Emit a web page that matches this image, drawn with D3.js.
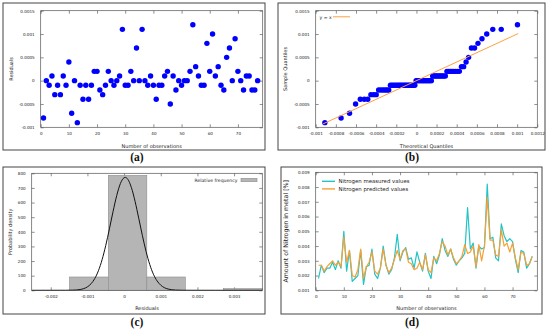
<!DOCTYPE html>
<html lang="en">
<head>
<meta charset="utf-8">
<script src="https://cdn.jsdelivr.net/npm/d3@7"></script>
<style>
    body { margin: 0; background: #fff; }
    svg text { font-family: "DejaVu Sans", sans-serif; fill: #222; }
    .axis .domain { display: none; }
    .axis line { stroke: #444; stroke-width: 0.6; }
    .axis text { font-size: 4.1px; font-family: "DejaVu Sans", sans-serif; fill: #222; }
    .frame { fill: none; stroke: #444; stroke-width: 1; }
    .plotbox { fill: none; stroke: #555; stroke-width: 0.7; }
    .atitle { font-size: 5px; }
    .legend { font-size: 5.4px; }
    .caption { font-family: "Liberation Serif", serif; font-size: 11.5px; font-weight: bold; fill: #111; }
</style>
</head>
<body>
<script>

    /* (a) residuals for each observation */
    var residuals = [-0.0008, 0, -0.0001, 0.0001, -0.0003, -0.0001, -0.0003, 0.0001, -0.0001, 0.0004,
        -0.0007, 0, -0.0009, -0.0001, -0.0004, -0.0001, -0.0004, -0.0001, 0.0002, 0.0002,
        -0.0002, -0.0003, -0.0001, 0.0002, 0, -0.0001, 0, 0.0001, 0.0011, -0.0001,
        -0.0001, 0.0002, 0, 0.0007, 0, 0.0011, 0, -0.0001, 0.0001, -0.0001,
        -0.0004, -0.0001, -0.0001, 0.0001, 0.0002, -0.0005, 0.0001, -0.0002, 0, -0.0001,
        0, 0, 0.0002, 0.0012, 0.0003, 0.0001, -0.0001, -0.0001, 0.0008, 0.0002,
        0.001, 0.0001, 0.0003, -0.0001, -0.0002, 0.0005, 0.0007, 0, 0.0009, 0.0002,
        0, -0.0002, 0.0001, 0.0001, -0.0002, -0.0002, 0];
    var observations = residuals.map(function(d, i) { return i + 1; });

    /* (b) theoretical quantiles, sample = sorted residuals */
    var qqTheoretical = [-9.09e-4, -7.48e-4, -6.64e-4, -6.04e-4, -5.57e-4, -5.17e-4, -4.83e-4, -4.52e-4, -4.24e-4, -3.99e-4,
        -3.75e-4, -3.53e-4, -3.32e-4, -3.12e-4, -2.93e-4, -2.75e-4, -2.58e-4, -2.41e-4, -2.25e-4, -2.09e-4,
        -1.93e-4, -1.78e-4, -1.64e-4, -1.49e-4, -1.35e-4, -1.21e-4, -1.07e-4, -0.94e-4, -0.80e-4, -0.67e-4,
        -0.54e-4, -0.42e-4, -0.29e-4, -0.16e-4, -0.03e-4, 0.09e-4, 0.22e-4, 0.34e-4, 0.47e-4, 0.60e-4,
        0.72e-4, 0.85e-4, 0.97e-4, 1.10e-4, 1.23e-4, 1.36e-4, 1.48e-4, 1.61e-4, 1.74e-4, 1.88e-4,
        2.01e-4, 2.15e-4, 2.29e-4, 2.43e-4, 2.58e-4, 2.72e-4, 2.87e-4, 3.03e-4, 3.19e-4, 3.35e-4,
        3.52e-4, 3.69e-4, 3.87e-4, 4.06e-4, 4.26e-4, 4.47e-4, 4.69e-4, 4.93e-4, 5.18e-4, 5.46e-4,
        5.77e-4, 6.11e-4, 6.51e-4, 6.98e-4, 7.58e-4, 8.42e-4, 10.03e-4];
    var qqSample = residuals.slice().sort(d3.ascending);
    var qqLineX = [-0.00093, 0.00101];

    /* (c) histogram bins and fitted density */
    var binStart = [-0.00149, -0.00043, 0.00062, 0.00271];
    var binEnd = [-0.00043, 0.00062, 0.00167, 0.00377];
    var binDensity = [91, 786, 91, 11];
    var curveX = [-25.2, -20, -16, -14, -13, -12, -11, -10, -9, -8, -7, -6, -5, -4, -3, -2, -1, 0, 0.3, 1, 2,
        3, 4, 5, 6, 7, 8, 9, 10, 11, 12, 13, 14, 16, 20, 25, 37.7].map(function(d) { return d * 1e-4; });
    var curveY = [0, 0, 0.1, 0.9, 2.3, 5.3, 11.6, 23.6, 44.9, 80.1, 133.8, 209.4, 306.6, 420.4, 539.6, 648.7, 730.2, 769.7, 772, 759.7, 702.1,
        607.6, 492.2, 373.5, 265.3, 176.5, 109.9, 64.2, 35.0, 17.9, 8.6, 3.9, 1.6, 0.2, 0, 0, 0];

    /* (d) measured vs predicted nitrogen */
    var measured = [0.0018, 0.0027, 0.0022, 0.0025, 0.0025, 0.0029, 0.0024, 0.0030, 0.0025, 0.0050,
        0.0023, 0.0037, 0.0016, 0.0018, 0.0020, 0.0037, 0.0014, 0.0026, 0.0027, 0.0038,
        0.0021, 0.0018, 0.0025, 0.0040, 0.0027, 0.0021, 0.0024, 0.0032, 0.0048, 0.0030,
        0.0036, 0.0039, 0.0031, 0.0032, 0.0025, 0.0036, 0.0029, 0.0023, 0.0035, 0.0023,
        0.0018, 0.0033, 0.0028, 0.0034, 0.0045, 0.0037, 0.0033, 0.0038, 0.0031, 0.0027,
        0.0030, 0.0032, 0.0035, 0.0066, 0.0038, 0.0042, 0.0025, 0.0040, 0.0038, 0.0039,
        0.0082, 0.0045, 0.0046, 0.0032, 0.0030, 0.0055, 0.0047, 0.0043, 0.0045, 0.0043,
        0.0031, 0.0022, 0.0037, 0.0036, 0.0025, 0.0028, 0.0033];
    var predicted = [0.0027, 0.0027, 0.0023, 0.0026, 0.0028, 0.0030, 0.0027, 0.0029, 0.0026, 0.0046,
        0.0029, 0.0037, 0.0020, 0.0019, 0.0024, 0.0038, 0.0018, 0.0026, 0.0029, 0.0036,
        0.0023, 0.0021, 0.0025, 0.0038, 0.0027, 0.0022, 0.0025, 0.0031, 0.0037, 0.0031,
        0.0037, 0.0038, 0.0029, 0.0028, 0.0024, 0.0025, 0.0029, 0.0024, 0.0034, 0.0024,
        0.0022, 0.0032, 0.0030, 0.0035, 0.0043, 0.0040, 0.0034, 0.0038, 0.0032, 0.0028,
        0.0030, 0.0033, 0.0041, 0.0035, 0.0036, 0.0040, 0.0026, 0.0041, 0.0030, 0.0040,
        0.0073, 0.0044, 0.0044, 0.0034, 0.0033, 0.0051, 0.0040, 0.0042, 0.0036, 0.0042,
        0.0032, 0.0024, 0.0036, 0.0035, 0.0027, 0.0028, 0.0033];

    /* tick values */
    var obsTicks = [0, 10, 20, 30, 40, 50, 60, 70];
    var residTicks = [-0.001, -0.0005, 0, 0.0005, 0.001, 0.0015];
    var theoTicks = [-0.001, -0.0008, -0.0006, -0.0004, -0.0002, 0, 0.0002, 0.0004, 0.0006, 0.0008, 0.001, 0.0012];
    var histXTicks = [-0.002, -0.001, 0, 0.001, 0.002, 0.003];
    var histYTicks = [0, 100, 200, 300, 400, 500, 600, 700, 800];
    var nitroTicks = [0.001, 0.002, 0.003, 0.004, 0.005, 0.006, 0.007, 0.008, 0.009];

    var svg = d3.select("body").append("svg")
            .attr("width", 550)
            .attr("height", 333);

    var trim = function(d) { return String(+d.toFixed(4)); };

    /* one gnuplot-like panel: frame, plot box, inward ticks on all four sides */
    function makePanel(o) {
        var g = svg.append("g");
        g.append("rect").attr("class", "frame")
                .attr("x", o.frame[0]).attr("y", o.frame[1])
                .attr("width", o.frame[2] - o.frame[0]).attr("height", o.frame[3] - o.frame[1]);

        var x = d3.scaleLinear().domain(o.xDomain).range([o.l, o.r]);
        var y = d3.scaleLinear().domain(o.yDomain).range([o.b, o.t]);

        g.append("g").attr("class", "axis")
                .attr("transform", "translate(0," + o.b + ")")
                .call(d3.axisBottom(x).tickValues(o.xTicks).tickSize(-3).tickPadding(5).tickFormat(o.xFmt));
        g.append("g").attr("class", "axis")
                .attr("transform", "translate(0," + o.t + ")")
                .call(d3.axisTop(x).tickValues(o.xTicks).tickSize(-3).tickFormat(""));
        g.append("g").attr("class", "axis")
                .attr("transform", "translate(" + o.l + ",0)")
                .call(d3.axisLeft(y).tickValues(o.yTicks).tickSize(-3).tickPadding(6).tickFormat(o.yFmt));
        g.append("g").attr("class", "axis")
                .attr("transform", "translate(" + o.r + ",0)")
                .call(d3.axisRight(y).tickValues(o.yTicks).tickSize(-3).tickFormat(""));

        var plot = g.append("g");

        g.append("rect").attr("class", "plotbox")
                .attr("x", o.l).attr("y", o.t)
                .attr("width", o.r - o.l).attr("height", o.b - o.t);

        g.append("text").attr("class", "atitle")
                .attr("x", (o.l + o.r) / 2).attr("y", o.xTitleY)
                .attr("text-anchor", "middle")
                .text(o.xTitle);
        g.append("text").attr("class", "atitle")
                .attr("transform", "translate(" + o.yTitleX + "," + ((o.t + o.b) / 2) + ") rotate(-90)")
                .attr("text-anchor", "middle")
                .style("font-size", o.yTitleSize || null)
                .text(o.yTitle);
        g.append("text").attr("class", "caption")
                .attr("x", o.capX).attr("y", o.capY)
                .attr("text-anchor", "middle")
                .text(o.caption);

        return {g: plot, x: x, y: y};
    }

    /* ---- (a) residuals ---- */
    var pa = makePanel({
        frame: [3, 3, 265, 150], l: 40.7, r: 262.7, t: 10.7, b: 127.3,
        xDomain: [0, 78.8], yDomain: [-0.001, 0.0015],
        xTicks: obsTicks, yTicks: residTicks, xFmt: d3.format("d"), yFmt: trim,
        xTitle: "Number of observations", xTitleY: 147.5,
        yTitle: "Residuals", yTitleX: 12.5,
        caption: "(a)", capX: 137, capY: 160.5
    });
    pa.g.selectAll("circle")
            .data(residuals)
            .enter()
            .append("circle")
            .attr("cx", function(d, i) { return pa.x(observations[i]); })
            .attr("cy", function(d) { return pa.y(d); })
            .attr("r", 2.7)
            .style("fill", "#0000ff");

    /* ---- (b) Q-Q plot ---- */
    var pb = makePanel({
        frame: [278, 3, 545, 150], l: 315.7, r: 537.3, t: 10.7, b: 127.3,
        xDomain: [-0.001, 0.0012], yDomain: [-0.001, 0.0015],
        xTicks: theoTicks, yTicks: residTicks, xFmt: trim, yFmt: trim,
        xTitle: "Theoretical Quantiles", xTitleY: 147.5,
        yTitle: "Sample Quantiles", yTitleX: 287,
        caption: "(b)", capX: 412, capY: 160.5
    });
    pb.g.selectAll("circle")
            .data(qqSample)
            .enter()
            .append("circle")
            .attr("cx", function(d, i) { return pb.x(qqTheoretical[i]); })
            .attr("cy", function(d) { return pb.y(d); })
            .attr("r", 2.7)
            .style("fill", "#0000ff");
    pb.g.append("path")
            .datum(qqLineX)
            .attr("d", d3.line().x(function(d) { return pb.x(d); }).y(function(d) { return pb.y(d); }))
            .style("fill", "none")
            .style("stroke", "#ffa040")
            .style("stroke-width", 1);
    pb.g.append("text").attr("class", "legend")
            .attr("x", 319.5).attr("y", 18.5)
            .style("font-size", "4.6px")
            .text("y = x");
    pb.g.append("line")
            .attr("x1", 333).attr("x2", 350).attr("y1", 16.8).attr("y2", 16.8)
            .style("stroke", "#ffa040").style("stroke-width", 1);

    /* ---- (c) histogram ---- */
    var pc = makePanel({
        frame: [3, 167, 265, 314], l: 31.7, r: 262.3, t: 173.3, b: 290.3,
        xDomain: [-0.00252, 0.00377], yDomain: [0, 800],
        xTicks: histXTicks, yTicks: histYTicks, xFmt: trim, yFmt: d3.format("d"),
        xTitle: "Residuals", xTitleY: 310,
        yTitle: "Probability density", yTitleX: 12,
        caption: "(c)", capX: 137, capY: 325.5
    });
    pc.g.selectAll("rect")
            .data(binDensity)
            .enter()
            .append("rect")
            .attr("x", function(d, i) { return pc.x(binStart[i]); })
            .attr("width", function(d, i) { return pc.x(binEnd[i]) - pc.x(binStart[i]); })
            .attr("y", function(d) { return pc.y(d); })
            .attr("height", function(d) { return pc.y(0) - pc.y(d); })
            .style("fill", "#b5b5b5")
            .style("stroke", "#8e8e8e")
            .style("stroke-width", 0.6);
    pc.g.append("path")
            .datum(curveY)
            .attr("d", d3.line()
                    .x(function(d, i) { return pc.x(curveX[i]); })
                    .y(function(d) { return pc.y(d); })
                    .curve(d3.curveMonotoneX))
            .style("fill", "none")
            .style("stroke", "#111")
            .style("stroke-width", 1);
    pc.g.append("text").attr("class", "legend")
            .attr("x", 237.5).attr("y", 181.6)
            .attr("text-anchor", "end")
            .style("font-size", "4.6px")
            .text("Relative frequency");
    pc.g.append("rect")
            .attr("x", 241).attr("y", 178.3).attr("width", 16).attr("height", 3.4)
            .style("fill", "#b5b5b5").style("stroke", "#8e8e8e").style("stroke-width", 0.6);

    /* ---- (d) measured vs predicted ---- */
    var pd = makePanel({
        frame: [281, 167, 542, 314], l: 315.7, r: 537.3, t: 172.3, b: 290.3,
        xDomain: [0, 78.8], yDomain: [0.001, 0.009],
        xTicks: obsTicks, yTicks: nitroTicks, xFmt: d3.format("d"), yFmt: d3.format(".3f"),
        xTitle: "Number of observations", xTitleY: 310,
        yTitle: "Amount of Nitrogen in metal [%]", yTitleX: 288, yTitleSize: "6.3px",
        caption: "(d)", capX: 412, capY: 325.5
    });
    var series = [
        {name: "Nitrogen measured values", values: measured, color: "#22c4c4"},
        {name: "Nitrogen predicted values", values: predicted, color: "#f7a035"}
    ];
    var nLine = d3.line()
            .x(function(d, i) { return pd.x(i + 1); })
            .y(function(d) { return pd.y(d); });
    series.forEach(function(s, k) {
        pd.g.append("path")
                .datum(s.values)
                .attr("d", nLine)
                .style("fill", "none")
                .style("stroke", s.color)
                .style("stroke-width", 1.2)
                .style("stroke-linejoin", "round");
        pd.g.append("line")
                .attr("x1", 322).attr("x2", 335)
                .attr("y1", 181.3 + k * 7.6).attr("y2", 181.3 + k * 7.6)
                .style("stroke", s.color).style("stroke-width", 1.4);
        pd.g.append("text").attr("class", "legend")
                .attr("x", 338.5).attr("y", 183.3 + k * 7.6)
                .text(s.name);
    });

</script>
</body>
</html>
